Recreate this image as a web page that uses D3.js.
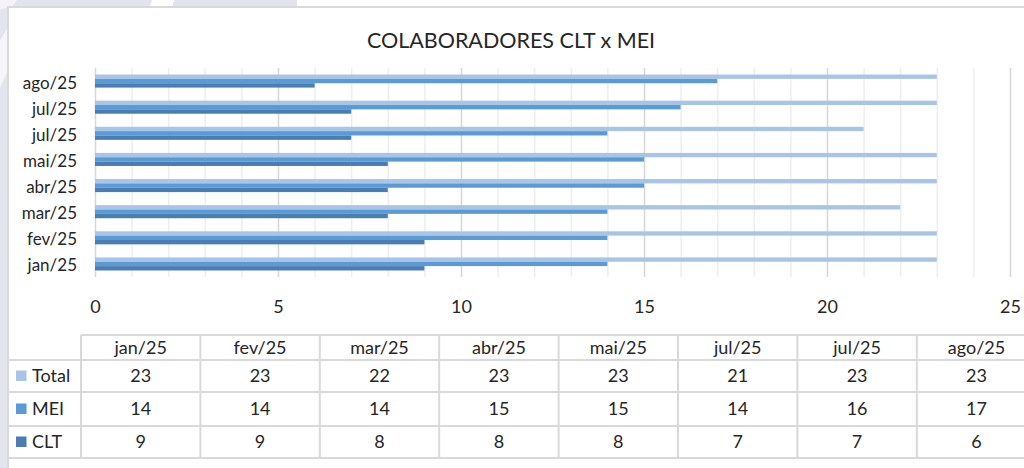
<!DOCTYPE html>
<html>
<head>
<meta charset="utf-8">
<script src="https://cdn.jsdelivr.net/npm/d3@7"></script>
<style>
    body{margin:0;background:#fff;}
    svg{display:block;font-family:Lato,"Noto Sans",sans-serif;}
</style>
</head>
<body>
<svg width="1024" height="468"></svg>
<script>
// dados do grafico
const categories = ['jan/25','fev/25','mar/25','abr/25','mai/25','jul/25','jul/25','ago/25'];
const seriesNames = ['Total','MEI','CLT'];
const total = [23,23,22,23,23,21,23,23];
const mei = [14,14,14,15,15,14,16,17];
const clt = [9,9,8,8,8,7,7,6];
const xTicks = [0,5,10,15,20,25];

const seriesValues = {Total: total, MEI: mei, CLT: clt};
const colors = {Total: '#a9c5e6', MEI: '#5b9bd5', CLT: '#4a7db4'};
const textColor = '#262626';
const lineColor = '#d9d9d9';

let svg = d3.select('svg');

//fundo lilas fora da moldura
let bg = svg.append('g').attr('class','bg');
bg.append('rect').attr('x',0).attr('y',0).attr('width',297).attr('height',7).attr('fill','#e4e4ee');
bg.append('rect').attr('x',0).attr('y',0).attr('width',8).attr('height',468).attr('fill','#e4e4ee');
bg.append('polygon').attr('points','152,0 174,0 172,7 150,7').attr('fill','#fff');
bg.append('polygon').attr('points','0,0 17,0 12,7 0,9').attr('fill','#f4f4f8');
bg.append('polygon').attr('points','0,40 8,28 8,70 0,88').attr('fill','#f6f6fa');

//moldura
svg.append('line').attr('x1',8).attr('x2',1024).attr('y1',7).attr('y2',7)
    .attr('stroke',lineColor).attr('stroke-width',2);
svg.append('line').attr('x1',8).attr('x2',8).attr('y1',6).attr('y2',468)
    .attr('stroke',lineColor).attr('stroke-width',2);

//titulo
svg.append('text')
    .attr('x',511)
    .attr('y',48)
    .attr('text-anchor','middle')
    .attr('fill',textColor)
    .style('font-size','21.5px')
    .text('COLABORADORES CLT x MEI');

//escalas
const plotTop = 68, plotBottom = 277;
let x = d3.scaleLinear().domain([0,25]).range([95,1010]);
let y0 = d3.scaleBand()
    .domain(d3.range(categories.length))
    .range([plotBottom,plotTop])
    .paddingInner(0.5)
    .paddingOuter(0.25);
let y1 = d3.scaleBand().domain(seriesNames).range([0,y0.bandwidth()]);

//linhas de grade secundarias e principais
svg.append('g')
    .attr('class','grid-minor')
    .attr('transform',`translate(0,${plotBottom})`)
    .call(d3.axisBottom(x).tickValues(d3.range(1,26).filter(v => v % 5)).tickSize(-(plotBottom-plotTop)).tickFormat(''))
    .call(g => g.select('.domain').remove())
    .selectAll('line')
    .attr('stroke','#eeeeee')
    .attr('stroke-width',1.5);
svg.append('g')
    .attr('class','grid-major')
    .attr('transform',`translate(0,${plotBottom})`)
    .call(d3.axisBottom(x).tickValues(xTicks).tickSize(-(plotBottom-plotTop)).tickFormat(''))
    .call(g => g.select('.domain').remove())
    .selectAll('line')
    .attr('stroke','#d6d6d6')
    .attr('stroke-width',1.5);

//barras
svg.append('g')
    .attr('class','bars')
    .selectAll('g')
    .data(categories.map((c,i) => i))
    .enter()
    .append('g')
    .attr('transform',i => `translate(0,${y0(i)})`)
    .selectAll('rect')
    .data(i => seriesNames.map(s => ({s: s, v: seriesValues[s][i]})))
    .enter()
    .append('rect')
    .attr('x',x(0))
    .attr('y',d => y1(d.s))
    .attr('width',d => x(d.v)-x(0))
    .attr('height',y1.bandwidth())
    .attr('fill',d => colors[d.s]);

//eixo x (rotulos)
svg.append('g')
    .attr('class','x-axis')
    .attr('transform','translate(0,300.5)')
    .call(d3.axisBottom(x).tickValues(xTicks).tickSize(0).tickPadding(0))
    .call(g => g.select('.domain').remove())
    .selectAll('text')
    .attr('fill',textColor)
    .style('font-size','18px')
    .style('font-family','Lato,"Noto Sans",sans-serif');

//eixo y (categorias)
svg.append('g')
    .attr('class','y-axis')
    .attr('transform',`translate(${x(0)},0)`)
    .call(d3.axisLeft(y0).tickSize(0).tickPadding(18).tickFormat(i => categories[i]))
    .call(g => g.select('.domain').remove())
    .selectAll('text')
    .attr('dy','0.44em')
    .attr('fill',textColor)
    .style('font-size','17px')
    .style('font-family','Lato,"Noto Sans",sans-serif');

//tabela de dados
const rowLines = [335,360,392,426,458];
let col = d3.scaleLinear().domain([0,categories.length]).range([81,81+categories.length*119.4]);
let table = svg.append('g').attr('class','data-table');

table.selectAll('.h-line')
    .data(rowLines)
    .enter()
    .append('line')
    .attr('x1',(d,i) => i === 0 ? col(0) : 8)
    .attr('x2',1024)
    .attr('y1',d => d)
    .attr('y2',d => d)
    .attr('stroke',lineColor)
    .attr('stroke-width',2);
table.selectAll('.v-line')
    .data(d3.range(categories.length+1))
    .enter()
    .append('line')
    .attr('x1',d => col(d))
    .attr('x2',d => col(d))
    .attr('y1',rowLines[0])
    .attr('y2',rowLines[rowLines.length-1])
    .attr('stroke',lineColor)
    .attr('stroke-width',2);

//cabecalho
table.selectAll('.head')
    .data(categories)
    .enter()
    .append('text')
    .attr('x',(d,i) => col(i+0.5))
    .attr('y',(rowLines[0]+rowLines[1])/2)
    .attr('dy','0.35em')
    .attr('text-anchor','middle')
    .attr('fill',textColor)
    .style('font-size','18px')
    .text(d => d);

//linhas de valores com legenda
seriesNames.forEach(function(s,r){
    let cy = (rowLines[r+1]+rowLines[r+2])/2;
    table.append('rect')
        .attr('x',16)
        .attr('y',cy-5.5)
        .attr('width',10.5)
        .attr('height',10.5)
        .attr('fill',colors[s]);
    table.append('text')
        .attr('x',32)
        .attr('y',cy)
        .attr('dy','0.35em')
        .attr('fill',textColor)
        .style('font-size','18px')
        .text(s);
    table.selectAll(`.val-${s}`)
        .data(seriesValues[s])
        .enter()
        .append('text')
        .attr('x',(d,i) => col(i+0.5))
        .attr('y',cy)
        .attr('dy','0.35em')
        .attr('text-anchor','middle')
        .attr('fill',textColor)
        .style('font-size','18px')
        .text(d => d);
});
</script>
</body>
</html>
